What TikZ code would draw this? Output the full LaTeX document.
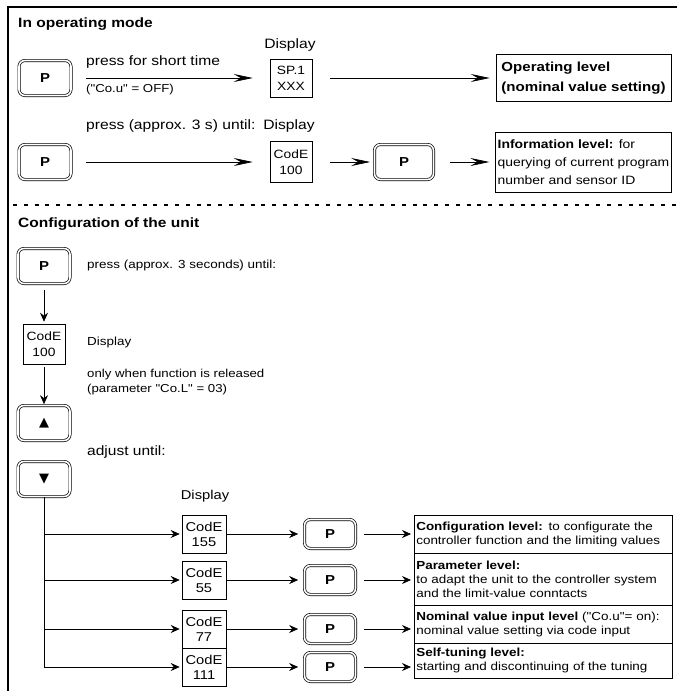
\documentclass[tikz,border=0pt]{standalone}
\usepackage{fontspec}
\newfontfamily\widesans{Liberation Sans}[FakeStretch=1.15]
\newfontfamily\symfont{DejaVu Sans}
\usetikzlibrary{positioning, arrows.meta}
\tikzset{
    keybutton/.style={draw, double, double distance=1.6pt, line width=0.7pt,
        rounded corners=6pt, minimum width=52pt, minimum height=35pt,
        inner sep=0pt, font=\fontsize{13}{13}\selectfont\bfseries},
    displaybox/.style={draw, line width=0.6pt, align=center, inner sep=0pt,
        minimum width=42pt, minimum height=38pt,
        font=\fontsize{12}{16}\selectfont},
    levelbox/.style={draw, line width=0.6pt, align=left, anchor=north west,
        text width=254pt, inner xsep=2pt, inner ysep=0pt,
        font=\fontsize{11.7}{14.3}\selectfont},
    infobox/.style={draw, line width=0.6pt, align=left, inner xsep=2pt,
        minimum width=175pt, minimum height=60pt,
        font=\fontsize{12.1}{18}\selectfont},
    plaintext/.style={inner sep=0pt, font=\fontsize{13.6}{15}\selectfont},
    sectiontext/.style={inner sep=0pt, font=\fontsize{11.7}{14}\selectfont},
    smalltext/.style={inner sep=0pt, align=left,
        font=\fontsize{11.5}{15}\selectfont},
    headline/.style={inner sep=0pt, anchor=west,
        font=\fontsize{13.5}{15}\selectfont\bfseries},
    longarrow/.style={-{Stealth[length=19pt, width=8pt, inset=7pt]},
        line width=0.7pt},
    shortarrow/.style={-{Stealth[length=9pt, width=8pt, inset=3pt]},
        line width=0.7pt},
    framerule/.style={line width=2.2pt},
    dottedrule/.style={line width=2pt, dash pattern=on 4pt off 6.8pt},
}

\begin{document}
\widesans
\begin{tikzpicture}[x=1pt, y=-1pt]
    \useasboundingbox (0,0) rectangle (677,691);
    \draw[framerule] (8,691) -- (8,7) -- (677,7); % Frame

    % In operating mode
    \node[headline] (opmode) at (18,24) {In operating mode};
    \node[keybutton] (pshort) at (45,78) {P}; % Short press
    \node[displaybox] (spdisp) at (291,78) {SP.1\\XXX};
    \node[plaintext] (splabel) at (290,45) {Display};
    \node[plaintext, anchor=west] (shorttxt) at (86,62) {press for short time};
    \node[smalltext, anchor=west] (couoff) at (86,90) {("Co.u" = OFF)};
    \node[infobox, minimum height=47pt, inner xsep=1pt,
        font=\fontsize{13.1}{20}\selectfont\bfseries]
        (oplevel) at (583.5,78) {Operating level\\(nominal value setting)};
    \draw[longarrow, shorten <=15pt, shorten >=17pt] (pshort) -- (spdisp);
    \draw[longarrow, shorten <=18pt, shorten >=6pt] (spdisp) -- (oplevel);

    \node[keybutton] (plong) at (45,162) {P}; % Long press
    \node[displaybox, minimum height=41pt] (codedisp) at (291,162) {CodE\\100};
    \node[plaintext] (codelabel) at (289,126) {Display};
    \node[plaintext, anchor=west] (longtxt) at (86,126)
        {press (approx. 3 s) until:};
    \node[keybutton, minimum width=59pt] (pinfo) at (404,162) {P};
    \node[infobox] (infolevel) at (583.5,162)
        {\textbf{Information level:} for\\querying of current program\\number and sensor ID};
    \draw[longarrow, shorten <=15pt, shorten >=17pt] (plong) -- (codedisp);
    \draw[longarrow, shorten <=18pt, shorten >=4pt] (codedisp) -- (pinfo);
    \draw[longarrow, shorten <=16pt, shorten >=6pt] (pinfo) -- (infolevel);

    \draw[dottedrule] (13,205) -- (677,205); % Separator

    % Configuration of the unit
    \node[headline] (config) at (18,224) {Configuration of the unit};
    \node[keybutton] (pcfg) at (44,266) {P};
    \node[sectiontext, anchor=west] (cfgtxt) at (87,265)
        {press (approx. 3 seconds) until:};
    \node[displaybox, minimum height=40pt] (cfgdisp) at (44,344) {CodE\\100};
    \node[sectiontext, anchor=west] (cfglabel) at (87,342) {Display};
    \node[smalltext, anchor=west] (release) at (87,382.5)
        {only when function is released\\(parameter "Co.L" = 03)};
    \node[keybutton] (kup) at (44,423) {\symfont ▲};
    \node[sectiontext, anchor=west, font=\fontsize{13.5}{15}\selectfont]
        (adjust) at (87,452) {adjust until:};
    \node[keybutton] (kdown) at (44,479) {\symfont ▼};
    \draw[shortarrow, shorten <=6pt, shorten >=2pt] (pcfg) -- (cfgdisp);
    \draw[shortarrow, shorten <=3pt, shorten >=1pt] (cfgdisp) -- (kup);

    \coordinate (trunk) at (44,667); % Foot of the branch line
    \draw[line width=0.7pt] (kdown) -- (trunk);
    \node[sectiontext, font=\fontsize{12.8}{15}\selectfont]
        (rowlabel) at (205,496) {Display};

    \foreach \r/\yy/\code/\tp/\hh/\txt in {
        1/534/155/515/38/{\textbf{Configuration level:} to configurate the\\controller function and the limiting values},
        2/580/55/553/52/{\textbf{Parameter level:}\\to adapt the unit to the controller system\\and the limit-value conntacts},
        3/629/77/605/38/{\textbf{Nominal value input level} ("Co.u"= on):\\nominal value setting via code input},
        4/667/111/643/35/{\textbf{Self-tuning level:}\\starting and discontinuing of the tuning}}{
        \node[displaybox, minimum width=44pt, font=\fontsize{12.8}{15}\selectfont]
            (code\r) at (204,\yy) {CodE\\\code}; % Code display
        \node[keybutton, minimum width=51pt, minimum height=29pt]
            (pk\r) at (330,\yy) {P}; % Confirm key
        \node[levelbox, minimum height=\hh pt] (lvl\r) at (414,\tp) {\txt};
        \draw[shortarrow, shorten >=2pt] (trunk |- code\r) -- (code\r);
        \draw[shortarrow, shorten >=6pt] (code\r) -- (pk\r);
        \draw[shortarrow, shorten <=8pt, shorten >=3pt]
            (pk\r.east) -- (pk\r.east -| lvl\r.west);
    }
\end{tikzpicture}
\end{document}
